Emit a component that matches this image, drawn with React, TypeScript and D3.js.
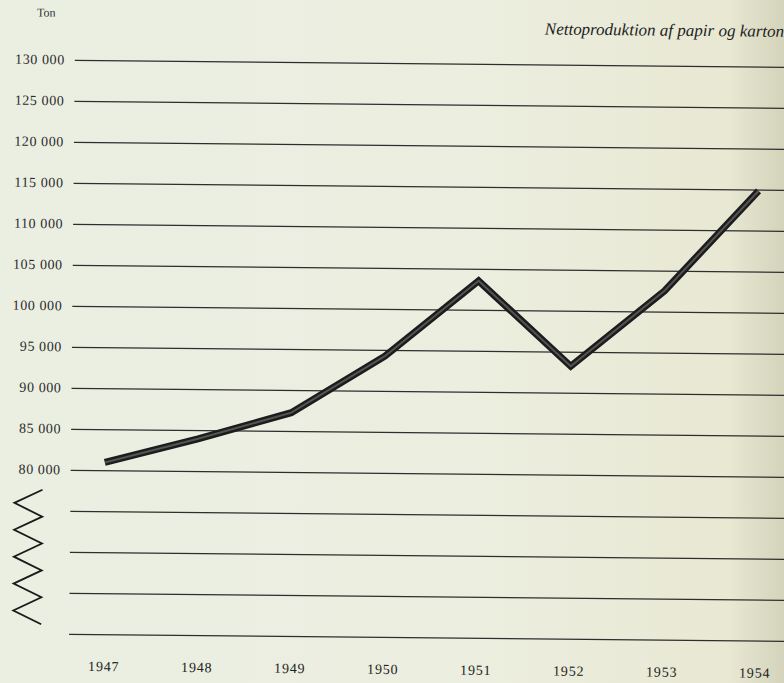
import { useEffect } from "react";
import * as d3 from "d3";

// Nettoproduktion af papir og karton, ton
const years = ["1947", "1948", "1949", "1950", "1951", "1952", "1953", "1954"];
const tons = [81000, 84000, 87300, 94300, 103600, 93300, 102600, 114900];
const labelTicks = [80000, 85000, 90000, 95000, 100000, 105000, 110000, 115000, 120000, 125000, 130000];
const brokenTicks = [60000, 65000, 70000, 75000];

const W = 784;
const H = 683;

export default function App() {
  useEffect(() => {
    document.body.style.margin = "0";
  }, []);

  const x = d3.scalePoint<string>().domain(years).range([106, 757]);
  const y = d3.scaleLinear().domain([60000, 130000]).range([637.5, 63.5]);

  const line = d3
    .line<number>()
    .x((_, i) => x(years[i]) as number)
    .y((d) => y(d));

  const fmt = (v: number) => d3.format(",")(v).replace(",", " ");

  // break symbol (zigzag) beside the unlabeled lower gridlines
  const zz: [number, number][] = [];
  const zTop = y(77600);
  const zBot = y(61200);
  const n = 10;
  for (let i = 0; i <= n; i++) {
    zz.push([i % 2 === 0 ? 44 : 16, zTop + ((zBot - zTop) * i) / n]);
  }

  const allTicks = [...brokenTicks, ...labelTicks];

  return (
    <svg width={W} height={H} style={{ display: "block" }}>
      <defs>
        <linearGradient id="paper" x1="0" x2="1" y1="0" y2="0">
          <stop offset="0" stopColor="#eaefe2" />
          <stop offset="0.6" stopColor="#eceedf" />
          <stop offset="0.93" stopColor="#e8e8d3" />
          <stop offset="1" stopColor="#d4d3bb" />
        </linearGradient>
      </defs>
      <rect width={W} height={H} fill="url(#paper)" />
      <g transform={`rotate(0.57, ${W / 2}, ${H / 2})`} fontFamily="'Liberation Serif', 'DejaVu Serif', serif">
        <text x={43} y={20} fontSize={12} fill="#333" textAnchor="middle">
          Ton
        </text>
        <text x={781} y={33} fontSize={17} fontStyle="italic" fill="#1d1d1d" textAnchor="end">
          Nettoproduktion af papir og karton
        </text>

        {allTicks.map((t) => (
          <line key={t} x1={72} x2={800} y1={y(t)} y2={y(t)} stroke="#2e2e2e" strokeWidth={1.3} />
        ))}
        {labelTicks.map((t) => (
          <text key={t} x={62} y={y(t) + 4} fontSize={14} fill="#2a2a2a" textAnchor="end" letterSpacing={0.6}>
            {fmt(t)}
          </text>
        ))}

        <path
          d={zz.map((p, i) => (i === 0 ? "M" : "L") + p[0] + "," + p[1]).join("")}
          fill="none"
          stroke="#1a1a1a"
          strokeWidth={1.8}
        />

        {years.map((yr) => (
          <text key={yr} x={(x(yr) as number) + 1} y={674} fontSize={14} fill="#222" textAnchor="middle" letterSpacing={0.8}>
            {yr}
          </text>
        ))}

        <path d={line(tons) || ""} fill="none" stroke="#1c1c1c" strokeWidth={7} strokeLinejoin="miter" />
        <path d={line(tons) || ""} fill="none" stroke="#7a7a7a" strokeWidth={2} strokeOpacity={0.6} strokeLinejoin="miter" />
      </g>
    </svg>
  );
}
